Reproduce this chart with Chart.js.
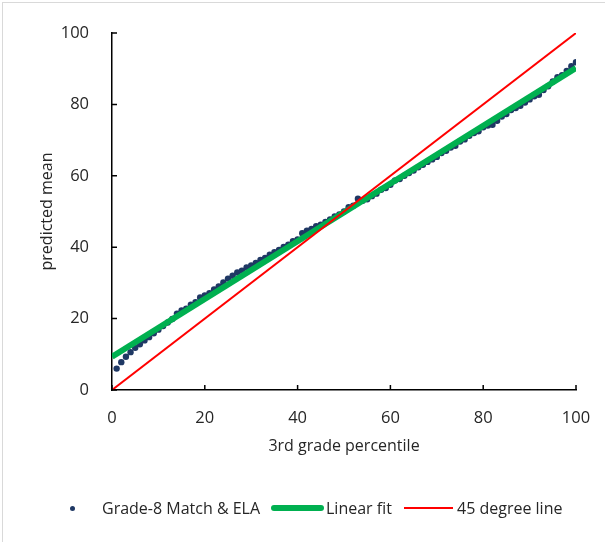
<!DOCTYPE html>
<html>
<head>
<meta charset="utf-8">
<script src="https://cdn.jsdelivr.net/npm/chart.js@4.4.0/dist/chart.umd.min.js"></script>
<style>
  body { margin: 0; background: #fff; overflow: hidden; }
  #frame { position: absolute; left: 2px; top: 2px; width: 640px; height: 580px; border: 1px solid #D9D9D9; }
  #wrap { position: absolute; left: 0; top: 0; width: 605px; height: 542px; }
  #legend { position: absolute; top: 496px; left: 0; width: 605px; height: 24px;
    font-family: "Open Sans", sans-serif; font-size: 16px; color: #262626; }
  .item { position: absolute; top: 0; line-height: 24px; white-space: nowrap; }
  .mk { position: absolute; }
</style>
</head>
<body>
<div id="frame"></div>
<div id="wrap"><canvas id="c" width="605" height="542"></canvas></div>
<div id="legend">
  <span class="mk" style="left:70px;top:10px;width:5px;height:5px;border-radius:50%;background:#1F3864"></span>
  <span class="item" style="left:102px">Grade-8 Match &amp; ELA</span>
  <span class="mk" style="left:271px;top:9px;width:53px;height:6px;border-radius:3px;background:#00B050"></span>
  <span class="item" style="left:326px">Linear fit</span>
  <span class="mk" style="left:404px;top:11px;width:49px;height:2px;background:#FF0000"></span>
  <span class="item" style="left:457px">45 degree line</span>
</div>
<script>
// percentile of 3rd grade score
const percentiles = [];
for (let i = 1; i <= 100; i++) percentiles.push(i);

// predicted grade-8 mean
const predictedMean = [
  6.0, 7.8, 9.3, 10.6, 11.8, 12.8, 13.9, 14.8, 15.9, 16.9,
  17.9, 18.9, 19.9, 21.4, 22.3, 22.8, 23.9, 24.6, 25.9, 26.5,
  27.1, 28.2, 29.0, 30.1, 31.2, 32.0, 32.9, 33.4, 34.3, 34.9,
  35.6, 36.4, 37.0, 37.9, 38.6, 39.2, 40.1, 40.7, 41.7, 42.2,
  43.9, 44.6, 45.1, 45.9, 46.3, 47.1, 47.8, 48.6, 49.2, 50.0,
  51.2, 51.6, 53.6, 53.0, 53.4, 54.3, 55.0, 56.1, 56.6, 57.5,
  58.7, 59.1, 60.0, 60.8, 61.5, 62.4, 63.1, 63.9, 64.6, 65.3,
  66.4, 67.0, 67.9, 68.4, 69.6, 70.2, 71.2, 72.0, 72.5, 73.6,
  74.1, 74.3, 75.4, 76.6, 77.3, 78.4, 79.0, 79.6, 80.5, 81.4,
  82.3, 82.7, 84.0, 85.1, 86.4, 87.6, 88.2, 89.4, 90.7, 91.8
];

// linear fit end points and 45 degree reference
const fitX = [0, 100];
const fitY = [9.3, 90.2];
const diagX = [0, 100];
const diagY = [0, 100];

const xTicks = [0, 20, 40, 60, 80, 100];
const yTicks = [0, 20, 40, 60, 80, 100];

const toPts = (xs, ys) => xs.map((x, i) => ({ x: x, y: ys[i] }));

// small inward tick marks, like the original
const innerTicks = {
  id: 'innerTicks',
  afterDraw(chart) {
    const ctx = chart.ctx;
    const xs = chart.scales.x, ys = chart.scales.y;
    const area = chart.chartArea;
    ctx.save();
    ctx.strokeStyle = '#000';
    ctx.lineWidth = 1.5;
    ctx.beginPath();
    xTicks.forEach(v => {
      const px = xs.getPixelForValue(v);
      ctx.moveTo(px, area.bottom);
      ctx.lineTo(px, area.bottom - 5);
    });
    yTicks.forEach(v => {
      const py = ys.getPixelForValue(v);
      ctx.moveTo(area.left, py);
      ctx.lineTo(area.left + 5, py);
    });
    ctx.stroke();
    ctx.restore();
  }
};

const font = { family: '"Open Sans", sans-serif', size: 16.5 };
const titleFont = { family: '"Open Sans", sans-serif', size: 16 };

new Chart(document.getElementById('c'), {
  type: 'scatter',
  data: {
    datasets: [
      {
        label: 'Grade-8 Match & ELA',
        data: toPts(percentiles, predictedMean),
        backgroundColor: '#1F3864',
        borderColor: '#1F3864',
        pointRadius: 3.2,
        borderWidth: 0,
        order: 3
      },
      {
        label: 'Linear fit',
        type: 'line',
        data: toPts(fitX, fitY),
        borderColor: '#00B050',
        borderWidth: 6,
        pointRadius: 0,
        fill: false,
        order: 2
      },
      {
        label: '45 degree line',
        type: 'line',
        data: toPts(diagX, diagY),
        borderColor: '#FF0000',
        borderWidth: 2,
        pointRadius: 0,
        fill: false,
        order: 1
      }
    ]
  },
  options: {
    responsive: false,
    animation: false,
    layout: { padding: { left: 34, right: 29, top: 33, bottom: 82 } },
    plugins: { legend: { display: false }, tooltip: { enabled: false } },
    scales: {
      x: {
        type: 'linear', min: 0, max: 100,
        afterBuildTicks: s => { s.ticks = xTicks.map(v => ({ value: v })); },
        afterFit: s => { s.height = 70; },
        grid: { display: false },
        border: { color: '#000', width: 1.5 },
        ticks: { color: '#262626', font: font, padding: 10, maxRotation: 0 },
        title: { display: true, text: '3rd grade percentile', color: '#262626',
          font: titleFont, padding: { top: 4, bottom: 4 } }
      },
      y: {
        type: 'linear', min: 0, max: 100,
        afterBuildTicks: s => { s.ticks = yTicks.map(v => ({ value: v })); },
        afterFit: s => { s.width = 78; },
        grid: { display: false },
        border: { color: '#000', width: 1.5 },
        ticks: { color: '#262626', font: font, padding: 15 },
        title: { display: true, text: 'predicted mean', color: '#262626',
          font: titleFont, padding: { top: 4, bottom: 4 } }
      }
    }
  },
  plugins: [innerTicks]
});
</script>
</body>
</html>
